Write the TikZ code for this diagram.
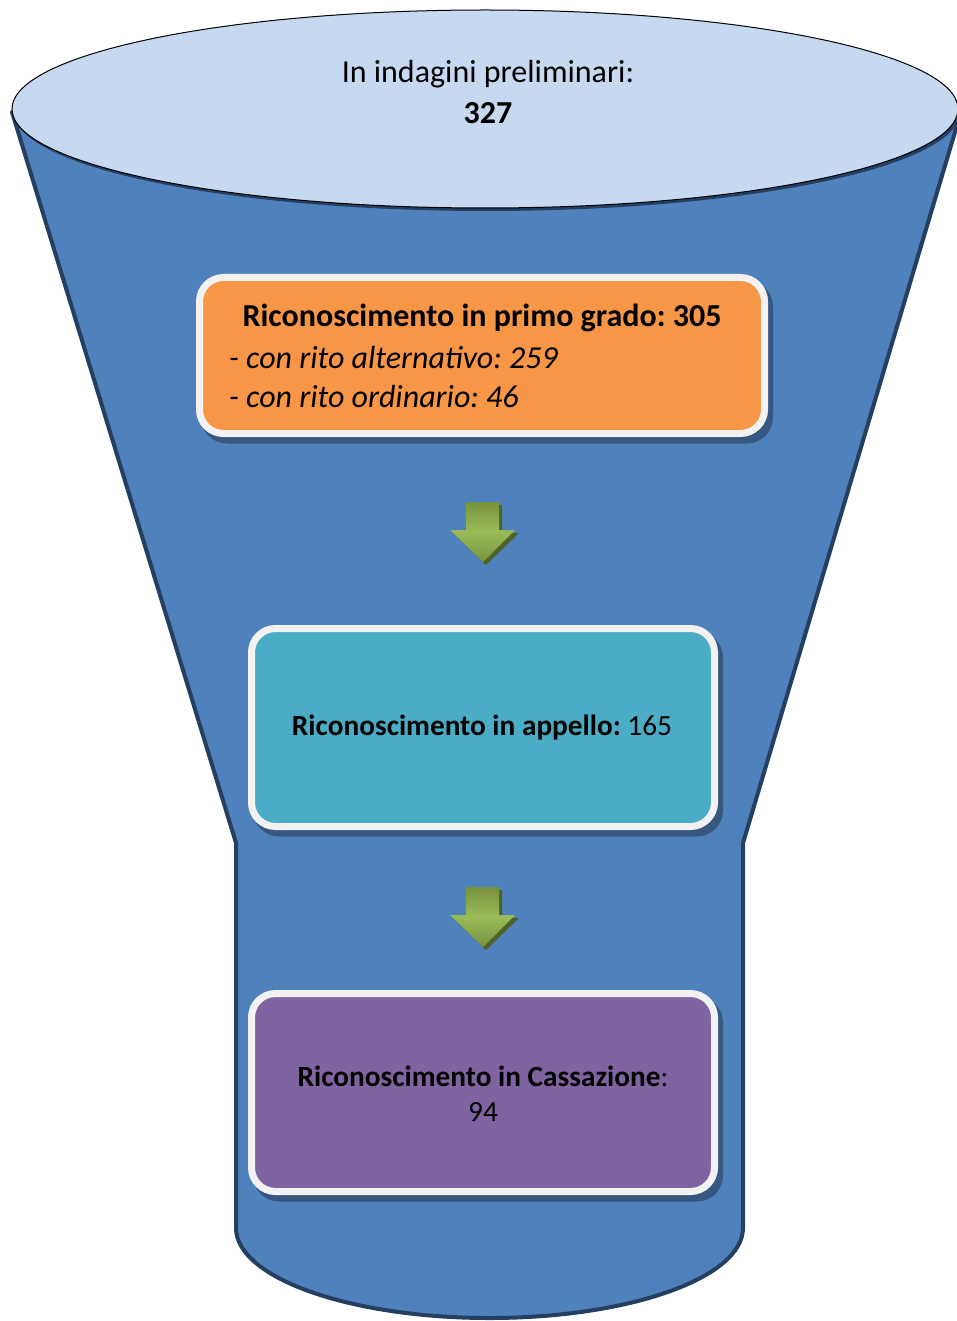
\documentclass[tikz,border=0pt]{standalone}
\usepackage{fontspec}
\setmainfont{Carlito}
\frenchspacing
\usetikzlibrary{shapes.geometric}
\definecolor{funnelblue}{HTML}{4F81BD}
\definecolor{funneledge}{HTML}{243F60}
\definecolor{topfill}{HTML}{C6D9F1}
\definecolor{orangefill}{HTML}{F79646}
\definecolor{tealfill}{HTML}{4BACC6}
\definecolor{purplefill}{HTML}{8064A2}
\definecolor{boxrim}{HTML}{F2F2F2}
\definecolor{arrowlight}{HTML}{9BBB59}
\definecolor{arrowdark}{HTML}{76923C}
\definecolor{arrowshadow}{HTML}{4F6228}
\tikzset{
  stagebox/.style={draw=boxrim, line width=7pt, rounded corners=24pt, inner sep=0pt},
  stageshadow/.style={fill=black, opacity=0.32, draw=none, rounded corners=26pt, inner sep=0pt},
  txt/.style={font=\fontsize{32}{38}\selectfont, text=black, inner sep=0pt},
  smalltxt/.style={font=\fontsize{29.3}{35}\selectfont, text=black, inner sep=0pt},
}
\newcommand{\greenarrow}[2]{% x, top y
  \fill[arrowshadow] (#1-14,#2+3) -- (#1+19,#2+3) -- (#1+19,#2+31) -- (#1+36,#2+31) -- (#1+3,#2+63) -- (#1-30,#2+31) -- (#1-14,#2+31) -- cycle;
  \shade[top color=arrowdark, bottom color=arrowdark, middle color=arrowlight]
    (#1-17,#2) -- (#1+16,#2) -- (#1+16,#2+28) -- (#1+32,#2+28) -- (#1,#2+60) -- (#1-33,#2+28) -- (#1-17,#2+28) -- cycle;
}
\begin{document}
\begin{tikzpicture}[x=1pt,y=-1pt]
\useasboundingbox (0,0) rectangle (957,1321);
% funnel body
\coordinate (tl) at (12,112);
\coordinate (ml) at (236,843);
\coordinate (bl) at (236,1228);
\coordinate (mr) at (743,843);
\coordinate (tr) at (958,122);
\draw[fill=funnelblue, draw=funneledge, line width=4pt, line join=round]
  (tl) -- (ml) -- (bl) arc[start angle=180, end angle=0, x radius=253.5, y radius=90] -- (mr) -- (tr) -- cycle;
% top ellipse
\fill[funneledge] (487,112) ellipse[x radius=473, y radius=99];
\node[ellipse, draw=black, line width=1pt, fill=topfill, minimum width=946pt, minimum height=198pt, inner sep=0pt] (top) at (485,109) {};
\node[txt] (toptext) at (488,74) {In indagini preliminari:};
\node[txt, font=\fontsize{32}{38}\selectfont\bfseries] (topnum) at (488,113) {327};
% box 1
\node[stageshadow, minimum width=572pt, minimum height=163pt] (s1) at (487,362) {};
\node[stagebox, fill=orangefill, minimum width=565pt, minimum height=156pt] (b1) at (482,355.5) {};
\node[txt, font=\fontsize{32}{38}\selectfont\bfseries] (b1t) at (482,318) {Riconoscimento in primo grado: 305};
\node[txt, anchor=west, font=\fontsize{32}{38}\selectfont\itshape] (b1a) at (229,358) {- con rito alternativo: 259};
\node[txt, anchor=west, font=\fontsize{32}{38}\selectfont\itshape] (b1b) at (229,397) {- con rito ordinario: 46};
% arrow 1
\greenarrow{483}{502}
% box 2
\node[stageshadow, minimum width=470pt, minimum height=205pt] (s2) at (488,734) {};
\node[stagebox, fill=tealfill, minimum width=463pt, minimum height=198pt] (b2) at (483,727.5) {};
\node[smalltxt] (b2t) at (482,728) {\textbf{Riconoscimento in appello:} 165};
% arrow 2
\greenarrow{483}{887}
% box 3
\node[stageshadow, minimum width=470pt, minimum height=205pt] (s3) at (488,1099) {};
\node[stagebox, fill=purplefill, minimum width=463pt, minimum height=198pt] (b3) at (483,1092.5) {};
\node[smalltxt] (b3t) at (483,1076) {\textbf{Riconoscimento in Cassazione}:};
\node[smalltxt] (b3n) at (483,1112) {94};
\end{tikzpicture}
\end{document}
